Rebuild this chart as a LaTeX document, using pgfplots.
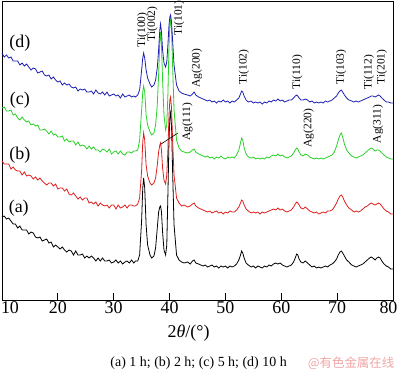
\documentclass[border=0pt]{standalone}
\usepackage{pgfplots}
\pgfplotsset{compat=1.18}
\usepackage{pgfplotstable}
\usepackage{fontspec}
\setmainfont{Liberation Serif}
\newfontfamily\cjk{Noto Sans CJK SC}
\definecolor{cblue}{RGB}{30,30,180}
\definecolor{cred}{RGB}{225,30,30}
\definecolor{cgreen}{RGB}{40,210,40}
\definecolor{wm}{RGB}{240,165,165}

\pgfplotstableread{
x a b c d
10.0 217 161 108 53
10.4 216 164 107 57
10.8 219 164 111 55
11.2 218 164 111 58
11.6 221 169 110 57
12.0 224 167 115 61
12.4 224 170 114 61
12.8 228 171 118 61
13.2 226 171 120 65
13.6 230 175 117 63
14.0 230 172 120 66
14.4 230 176 122 64
14.8 234 175 121 67
15.2 232 176 125 70
15.6 233 179 124 68
16.0 237 177 126 69
16.4 238 180 125 73
16.8 237 178 130 72
17.2 241 181 130 71
17.6 240 183 129 75
18.0 239 185 131 76
18.4 243 183 134 75
18.8 242 183 131 79
19.2 247 186 135 77
19.6 245 184 134 80
20.0 247 189 137 82
20.4 249 188 137 81
20.8 247 188 136 85
21.2 250 191 141 83
21.6 252 189 139 85
22.0 250 194 142 84
22.4 251 195 141 87
22.8 255 193 141 88
23.2 251 196 145 87
23.6 255 199 142 91
24.0 255 197 146 89
24.4 254 200 145 90
24.8 258 198 146 89
25.2 256 198 149 92
25.6 258 203 146 92
26.0 256 202 149 91
26.4 258 204 147 94
26.8 261 202 150 90
27.2 258 206 150 93
27.6 261 203 152 94
28.0 258 205 149 92
28.4 261 206 150 95
28.8 261 205 152 92
29.2 260 208 149 96
29.6 263 205 154 95
30.0 262 205 152 94
30.4 260 209 151 96
30.8 263 205 154 95
31.2 261 208 151 98
31.6 264 207 154 94
32.0 262 205 155 97
32.4 261 208 152 96
32.8 263 205 152 95
33.2 260 205 153 97
33.6 263 206 151 96
33.9 261 206 151 97
34.3 261 204 150 95
34.64 255 198 140 90
35.0 220 170 110 70
35.2 188 142 92 58
35.36 178 133 86 53
35.55 188 140 92 58
35.8 225 165 115 70
36.07 245 176 125 78
36.5 255 183 132 84
36.79 258 185 135 87
37.2 256 183 133 85
37.5 248 178 125 80
37.8 228 165 105 68
38.04 212 152 75 50
38.25 207 145 42 30
38.39 206 143 32 24
38.55 212 150 45 32
38.75 232 168 80 50
39.0 250 180 115 63
39.29 255 184 130 67
39.5 245 175 125 62
39.7 195 150 95 45
39.9 140 115 45 25
40.05 118 100 25 17
40.18 113 97 20 15
40.35 125 108 30 22
40.54 170 140 65 40
40.8 225 175 110 65
41.25 255 198 140 85
41.7 260 203 148 91
42.14 262 206 151 93
42.6 263 205 152 94
43.21 262 207 153 95
43.7 264 206 152 96
44.1 261 204 150 94
44.4 260 203 149 92
44.7 263 206 152 95
45.2 264 208 154 97
45.6 265 209 155 98
46.0 266 210 156 99
46.4 265 211 157 100
46.8 267 212 156 101
47.2 266 211 158 100
47.6 265 213 157 102
48.0 267 212 159 101
48.4 266 211 157 103
48.8 268 213 158 101
49.2 266 212 156 102
49.6 267 214 158 100
50.0 266 212 159 102
50.4 268 213 157 101
50.8 266 211 158 103
51.2 267 212 157 101
51.6 266 212 158 102
52.0 264 210 155 100
52.4 260 207 150 98
52.7 255 203 143 94
52.9 251 200 138 91
53.1 253 201 140 92
53.35 258 205 148 96
53.7 263 209 154 100
54.1 265 211 157 102
54.6 267 213 158 101
55.0 266 212 157 103
55.4 268 213 159 102
55.8 266 212 158 103
56.2 267 214 159 102
56.6 268 212 158 104
57.0 266 213 159 102
57.4 267 212 157 103
57.8 265 211 158 101
58.2 266 210 156 102
58.6 264 209 155 100
59.0 263 210 156 101
59.4 264 208 154 99
59.8 263 210 156 101
60.2 265 209 155 100
60.6 266 211 157 102
61.0 267 212 158 101
61.4 266 211 157 100
61.8 265 210 156 100
62.2 262 207 153 98
62.5 258 204 150 96
62.75 254 202 148 95
62.95 255 203 149 96
63.2 259 205 152 98
63.5 262 208 155 100
63.9 263 209 156 100
64.3 261 207 154 99
64.7 263 209 155 100
65.1 265 211 157 102
65.5 267 212 158 101
65.9 266 213 159 103
66.3 268 212 158 102
66.7 267 214 159 103
67.1 268 213 158 102
67.5 267 212 159 103
67.9 266 213 158 101
68.3 267 211 157 102
68.7 265 211 156 101
69.1 264 210 155 100
69.5 262 207 152 98
69.9 259 203 146 96
70.2 255 199 140 93
70.5 252 196 135 91
70.75 251 195 133 90
71.0 253 197 137 92
71.3 256 201 144 95
71.7 260 205 150 98
72.1 262 208 153 100
72.6 265 210 156 101
73.0 266 212 157 102
73.4 267 211 158 101
73.8 266 212 157 102
74.2 265 211 156 101
74.6 264 209 155 100
75.0 262 207 153 99
75.4 260 206 151 98
75.8 258 204 149 97
76.1 257 203 148 96
76.4 258 204 149 96
76.8 260 205 151 97
77.1 258 204 150 96
77.4 257 203 150 95
77.7 258 204 151 96
78.0 261 206 153 98
78.4 264 209 155 100
78.8 266 211 157 102
79.2 267 212 158 102
79.6 269 214 159 103
80.0 269 214 159 103
}\xrd

\begin{document}
\begin{tikzpicture}
\path[use as bounding box] (0,0) rectangle (400bp,-374bp);
\begin{axis}[
  at={(2bp,-1bp)}, anchor=north west,
  scale only axis, width=391bp, height=299bp,
  xmin=10, xmax=80, ymin=1, ymax=300, y dir=reverse,
  ytick=\empty,
  xtick={10,20,...,80},
  xticklabels={\hspace*{16bp}10,20,30,40,50,60,70,80\hspace*{9bp}},
  xtick pos=bottom, tick align=inside, major tick length=7bp,
  tick style={black, line width=0.8bp},
  axis line style={line width=0.8bp},
  ticklabel style={font=\fontsize{18}{20}\selectfont, inner sep=1bp},
  clip=false,
  every axis plot/.append style={line width=0.8bp},
]
\addplot[black, no markers] table[x=x,y=a]{\xrd};
\addplot[cred, no markers] table[x=x,y=b]{\xrd};
\addplot[cgreen, no markers] table[x=x,y=c]{\xrd};
\addplot[cblue, no markers] table[x=x,y=d]{\xrd};

\node[font=\fontsize{18}{20}\selectfont] at (axis cs:13.2,43) {(d)};
\node[font=\fontsize{18}{20}\selectfont] at (axis cs:13.2,100) {(c)};
\node[font=\fontsize{18}{20}\selectfont] at (axis cs:13.2,155) {(b)};
\node[font=\fontsize{18}{20}\selectfont] at (axis cs:13.0,208) {(a)};

\begin{scope}[every node/.style={rotate=90, font=\fontsize{11.5}{12}\selectfont, inner sep=0pt}]
\node at (axis cs:35.15,30) {Ti(100)};
\node at (axis cs:36.94,24) {Ti(002)};
\node at (axis cs:41.69,18) {Ti(101)};
\node at (axis cs:44.9,68) {Ag(200)};
\node at (axis cs:43.2,122) {Ag(111)};
\node at (axis cs:53.3,67) {Ti(102)};
\node at (axis cs:62.9,72) {Ti(110)};
\node at (axis cs:70.7,67) {Ti(103)};
\node at (axis cs:75.7,72) {Ti(112)};
\node at (axis cs:78.0,67) {Ti(201)};
\node at (axis cs:64.9,128) {Ag(220)};
\node at (axis cs:77.3,124) {Ag(311)};
\end{scope}
\draw[black, line width=0.6bp] (axis cs:38.48,144) -- (axis cs:41.5,133);

\node[font=\fontsize{18}{20}\selectfont] at (axis cs:43.4,333) {2\textit{θ}/(°)};
\node[font=\fontsize{14}{16}\selectfont] at (axis cs:45.2,363) {(a) 1 h; (b) 2 h; (c) 5 h; (d) 10 h};
\node[font=\cjk\fontsize{12.5}{14}\selectfont, text=wm] at (axis cs:72.5,363) {@有色金属在线};
\end{axis}
\end{tikzpicture}
\end{document}
